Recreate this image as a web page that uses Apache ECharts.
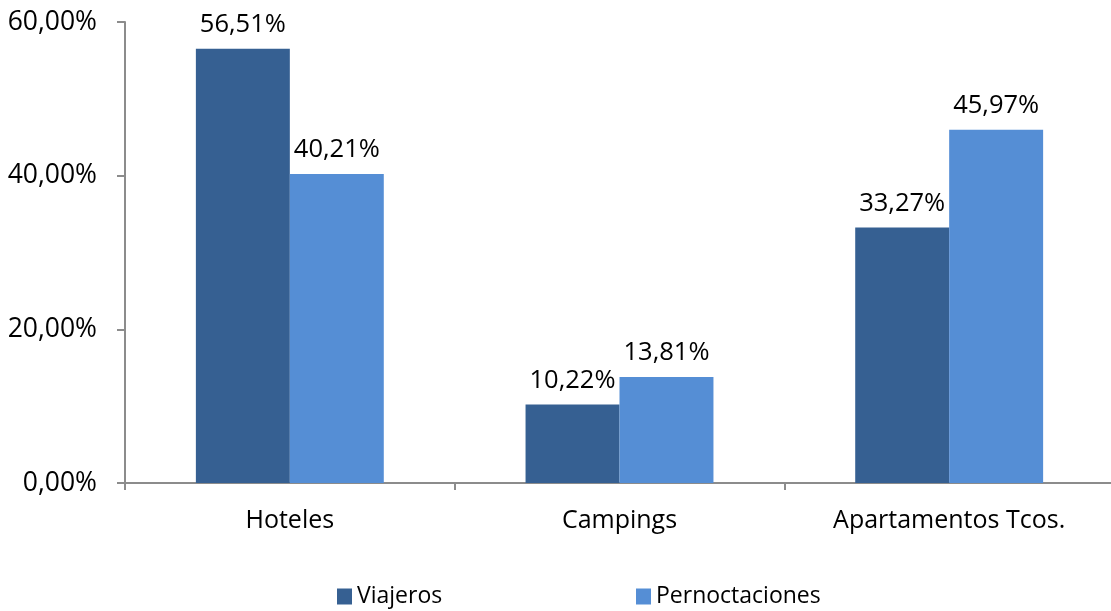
<!DOCTYPE html>
<html>
<head>
<meta charset="utf-8">
<script src="https://cdn.jsdelivr.net/npm/echarts@6/dist/echarts.min.js"></script>
<style>
  html, body { margin: 0; padding: 0; background: #fff; overflow: hidden; }
  #chart { width: 1120px; height: 611px; }
</style>
</head>
<body>
<div id="chart"></div>
<script>
// values (percent)
const categories = ['Hoteles', 'Campings', 'Apartamentos Tcos.']
const viajeros = [56.51, 10.22, 33.27]
const pernoctaciones = [40.21, 13.81, 45.97]
const yTicks = [0, 20, 40, 60]

const FONT = '"Open Sans", "Noto Sans", sans-serif'
const axisGrey = '#8c8c8c'

// 56.51 -> "56,51%"
function pct(v, dec) {
  return v.toFixed(dec).replace('.', ',') + '%'
}

const labelStyle = {
  show: true,
  position: 'top',
  distance: 11,
  color: '#000',
  fontFamily: FONT,
  fontSize: 25.5,
  formatter: p => pct(p.value, 2)
}

const legendText = { fontFamily: FONT, fontSize: 23, color: '#000', padding: [0, 0, 0, 0] }

const chart = echarts.init(document.getElementById('chart'))

chart.setOption({
  animation: false,
  textStyle: { fontFamily: FONT },
  // plot runs a little past the right edge of the picture, as in the original
  grid: { left: 125, top: 22, width: 989, height: 461, containLabel: false },
  legend: [
    {
      data: ['Viajeros'],
      left: 337, top: 585, padding: 0,
      itemWidth: 15, itemHeight: 16, itemGap: 0,
      icon: 'rect',
      textStyle: legendText
    },
    {
      data: ['Pernoctaciones'],
      left: 636, top: 585, padding: 0,
      itemWidth: 15, itemHeight: 16, itemGap: 0,
      icon: 'rect',
      textStyle: legendText
    }
  ],
  xAxis: {
    type: 'category',
    data: categories,
    axisLine: { lineStyle: { color: axisGrey, width: 2 } },
    axisTick: { show: true, length: 7, lineStyle: { color: axisGrey, width: 2 } },
    axisLabel: { color: '#000', fontSize: 25, fontFamily: FONT, margin: 25 }
  },
  yAxis: {
    type: 'value',
    min: yTicks[0],
    max: yTicks[yTicks.length - 1],
    interval: 20,
    axisLine: { show: true, lineStyle: { color: axisGrey, width: 2 } },
    axisTick: { show: true, length: 8, lineStyle: { color: axisGrey, width: 2 } },
    splitLine: { show: false },
    axisLabel: {
      color: '#000', fontSize: 26.5, fontFamily: FONT, margin: 28,
      formatter: v => pct(v, 2)
    }
  },
  series: [
    {
      name: 'Viajeros',
      type: 'bar',
      data: viajeros,
      barGap: '0%',
      barCategoryGap: '43%',
      itemStyle: { color: '#366092' },
      label: labelStyle
    },
    {
      name: 'Pernoctaciones',
      type: 'bar',
      data: pernoctaciones,
      itemStyle: { color: '#558ed5' },
      label: labelStyle
    }
  ]
})

window.addEventListener('resize', function () {
  chart.resize()
})
</script>
</body>
</html>
